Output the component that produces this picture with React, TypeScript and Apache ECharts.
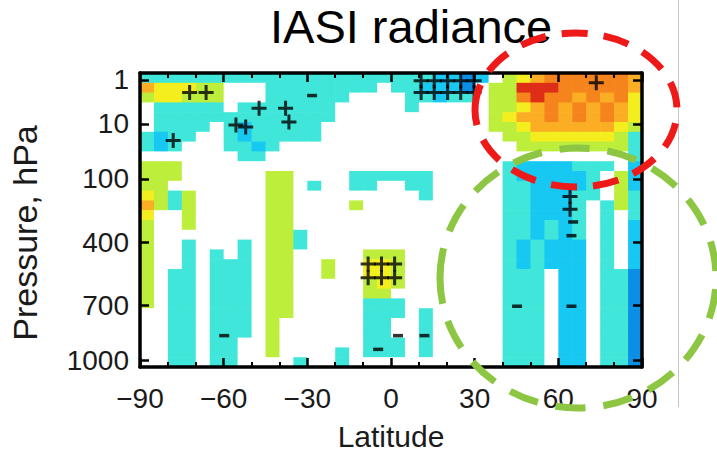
import React, { useEffect, useRef } from 'react';
import * as echarts from 'echarts';

const FONT = '"Liberation Sans", Arial, Helvetica, sans-serif';

// Latitude tick labels and grid cell centres (5 degree bins)
const latTicks = [-90, -60, -30, 0, 30, 60, 90];
const latCenters = [
  -87.5, -82.5, -77.5, -72.5, -67.5, -62.5, -57.5, -52.5, -47.5, -42.5, -37.5, -32.5,
  -27.5, -22.5, -17.5, -12.5, -7.5, -2.5, 2.5, 7.5, 12.5, 17.5, 22.5, 27.5,
  32.5, 37.5, 42.5, 47.5, 52.5, 57.5, 62.5, 67.5, 72.5, 77.5, 82.5, 87.5,
];

// Pressure tick labels and their position on the (model level) vertical axis
const pressureLabels = ['1', '10', '100', '400', '700', '1000'];
const pressureLevelPos = [0.7, 5.2, 10.8, 17.3, 23.7, 29.3];

// Contour class of each code
const codeValues: Record<string, number> = { B: -3, b: -2, c: -1, '.': 0, g: 1, y: 2, o: 3, O: 4, r: 5 };
const classColors = ['#0a8ee6', '#16c8f2', '#40e6da', '#ffffff', '#bdee3c', '#f4ee1e', '#fbae24', '#f5841c', '#de2e18'];
const classValues = [-3, -2, -1, 0, 1, 2, 3, 4, 5];

// Rows from top (1 hPa) to bottom (1000 hPa), columns from -90 to 90 latitude
const anomalyRows = [
  'cccccc cccccc cccccc cccbbB b.gyoO OOOOOo',
  'oyyygg ...ccc ccccc. ccbbbB .ggrrr OOOOOo',
  'gyyggg ...ccc ccc... .ccbcc .ggOrO OoOoOy',
  '.ccccc .ccccc cc.... .c.... .ggyoO oOoOoy',
  '.ccccc cccccc cc.... ...... .gyooO oOoOoy',
  '.cccc. cbcccc c..... ...... .ggyoo ooooyg',
  'cbcc.. cbcccc c..... ...... ..ggyy yyyygc',
  'cbc... ccbc.. ...... ...... ...ggg gggggc',
  '...... .cc... ...... ...... ...... .....c',
  'ggg... ...... ...... ...... .. cbbbbccc.b',
  'ggg... ...gg. ...ccc ccc... .. cbbbbbc.gb',
  'gg.... ...gg. c..cc. .cc... .. ccbbbbc.gb',
  'ygcg.. ...gg. ...... ..c... .. ccbbbcc.gc',
  'ogcg.. ...gg. ...g.. ...... .. ccbbbc.cgc',
  'y..g.. ...gg. ...... ...... .. ccbbbc.c.c',
  'g..g.. ...gg. ...... ...... .. ccbcbc.c.b',
  'g..... ...ggc ...... ...... .. ccbcbc.c.b',
  'g..c.. .c.ggc ...... ...... .. cbcbbb.c.b',
  'g..c.c .c.gg. ....gg g..... .. cbcbbb.c.b',
  'g..c.c cc.gg. .g..yy g..... .. cbcbbb.c.b',
  'g.cc.c cc.gg. .g..yy g..... .. ccc.bb.ccB',
  'g.cc.c cc.gg. ....gy g..... .. ccc.bb.ccB',
  'g.cc.c cc.gg. ....gg ...... .. ccc.bb.ccB',
  'g.cc.c cc.gg. ....cc c..... .. ccc.bb.ccB',
  '..cc.c cc.gg. ....cc c.c... .. ccc.bb.ccB',
  '..cc.c cc.g.. ....cc ..c... .. ccc.bb.ccB',
  '..cc.c cc.g.. ....cc ..c... .. ccc.bb.ccB',
  '..cc.c c..g.. ....cc c.c... .. ccc.bb.ccB',
  '..cc.c c..g.. ..c.cc c.c... .. ccc.bb.ccB',
  '..cc.c c....c ..c... ...... .. ccc.bb.ccB',
];

// Significance markers [latitude, level]
const sigPlus = [
  [-72.2, 2.0], [-66.3, 2.0],
  [-78.1, 6.9], [-55.6, 5.3], [-52.1, 5.5], [-47.3, 3.6], [-37.8, 3.6], [-36.6, 5.0],
  [10.8, 0.8], [15.5, 0.8], [20.3, 0.8], [25.0, 0.8], [29.8, 0.8],
  [10.8, 2.0], [15.5, 2.0], [20.3, 2.0], [25.0, 2.0], [29.8, 2.0],
  [73.6, 1.0],
  [-8.2, 19.5], [-3.4, 19.5], [1.3, 19.5], [-8.2, 20.9], [-3.4, 20.9], [1.3, 20.9],
  [64.2, 12.6], [64.2, 13.9],
];
const sigDash = [
  [-28.3, 2.3], [65.3, 15.2], [64.7, 16.6], [45.2, 23.8], [64.7, 23.8],
  [-59.8, 26.8], [2.5, 26.8], [12.0, 26.8], [-4.6, 28.2],
];

const PLUS = 'path://M6.4,0H9.6V16H6.4Z M0,6.4H16V9.6H0Z';

function buildCells() {
  const cells: number[][] = [];
  anomalyRows.forEach((rowStr, r) => {
    const row = rowStr.replace(/ /g, '');
    for (let c = 0; c < latCenters.length; c++) {
      const ch = row[c] ?? '.';
      cells.push([latCenters[c], r, codeValues[ch] ?? 0]);
    }
  });
  return cells;
}

export default function App() {
  const ref = useRef<HTMLDivElement>(null);
  useEffect(() => {
    document.body.style.margin = '0';
    if (!ref.current) return;
    const chart = echarts.init(ref.current, undefined, { renderer: 'svg' });
    const cells = buildCells();
    const latLabel = (v: number) => (v < 0 ? '\u2212' + Math.abs(v) : String(v));
    const presLabel = (v: number) => {
      let best = 0;
      pressureLevelPos.forEach((p, i) => {
        if (Math.abs(p - v) < Math.abs(pressureLevelPos[best] - v)) best = i;
      });
      return pressureLabels[best];
    };
    const axisLine = { show: true, onZero: false, lineStyle: { color: '#000', width: 3.5 } };
    const tick = { show: true, inside: true, length: 9, lineStyle: { color: '#000', width: 2.5 } };
    const minor = { show: true, splitNumber: 3, length: 5, lineStyle: { color: '#000', width: 2 } };
    chart.setOption({
      animation: false,
      backgroundColor: '#fff',
      title: {
        text: 'IASI radiance',
        left: 270,
        top: 3,
        padding: 0,
        textStyle: { fontSize: 47, fontWeight: 'normal', color: '#000', fontFamily: FONT },
      },
      grid: { left: 139, top: 73, width: 503, height: 300, show: false },
      visualMap: {
        type: 'piecewise',
        show: false,
        dimension: 2,
        seriesIndex: 0,
        pieces: classValues.map((v, i) => ({ value: v, color: classColors[i] })),
      },
      xAxis: [
        {
          type: 'value', min: -90, max: 90, interval: 30, position: 'bottom', z: 10,
          axisLine, axisTick: tick, minorTick: minor,
          splitLine: { show: false },
          axisLabel: { formatter: latLabel, fontSize: 28, color: '#1a1a1a', margin: 17, fontFamily: FONT },
          name: 'Latitude', nameLocation: 'middle', nameGap: 54,
          nameTextStyle: { fontSize: 30, color: '#1a1a1a', fontFamily: FONT },
        },
        {
          type: 'value', min: -90, max: 90, interval: 30, position: 'top', z: 10,
          axisLine, axisTick: tick, minorTick: minor,
          splitLine: { show: false }, axisLabel: { show: false },
        },
      ],
      yAxis: [
        {
          type: 'value', min: 0, max: 30, inverse: true, position: 'left', z: 10,
          axisLine,
          axisTick: { ...tick, customValues: pressureLevelPos },
          splitLine: { show: false },
          axisLabel: { customValues: pressureLevelPos, formatter: presLabel, fontSize: 28, color: '#1a1a1a', margin: 11, fontFamily: FONT },
          name: 'Pressure, hPa', nameLocation: 'middle', nameGap: 98,
          nameTextStyle: { fontSize: 34, color: '#1a1a1a', fontFamily: FONT, padding: [0, 26, 0, 0] },
        },
        {
          type: 'value', min: 0, max: 30, inverse: true, position: 'right', z: 10,
          axisLine,
          axisTick: { ...tick, customValues: pressureLevelPos },
          splitLine: { show: false }, axisLabel: { show: false },
        },
      ],
      series: [
        {
          type: 'custom',
          xAxisIndex: 0, yAxisIndex: 0,
          data: cells,
          encode: { x: 0, y: 1 },
          clip: true,
          renderItem: (params: any, api: any) => {
            const lat = api.value(0);
            const row = api.value(1);
            const p0 = api.coord([lat - 2.5, row]);
            const p1 = api.coord([lat + 2.5, row + 1]);
            return {
              type: 'rect',
              shape: {
                x: Math.min(p0[0], p1[0]), y: Math.min(p0[1], p1[1]),
                width: Math.abs(p1[0] - p0[0]) + 0.6, height: Math.abs(p1[1] - p0[1]) + 0.6,
              },
              style: { fill: api.visual('color') },
            };
          },
          z: 1,
        },
        {
          type: 'scatter', xAxisIndex: 0, yAxisIndex: 0,
          data: sigPlus, symbol: PLUS, symbolSize: 15,
          itemStyle: { color: '#000' }, z: 3,
        },
        {
          type: 'scatter', xAxisIndex: 0, yAxisIndex: 0,
          data: sigDash, symbol: 'rect', symbolSize: [10, 3.5],
          itemStyle: { color: '#000' }, z: 3,
        },
      ],
      graphic: [
        { type: 'line', shape: { x1: 678.5, y1: 0, x2: 678.5, y2: 407 }, style: { stroke: '#c4c4c4', lineWidth: 1 }, z: 50 },
        {
          type: 'ellipse', shape: { cx: 576, cy: 110, rx: 101, ry: 77 },
          style: { fill: 'rgba(0,0,0,0)', stroke: '#ee1a1a', lineWidth: 7, lineDash: [26, 16] }, z: 60,
        },
        {
          type: 'ellipse', shape: { cx: 578, cy: 278, rx: 138, ry: 130 },
          style: { fill: 'rgba(0,0,0,0)', stroke: '#8cc643', lineWidth: 7, lineDash: [30, 18] }, z: 61,
        },
      ],
    });
    return () => chart.dispose();
  }, []);
  return <div ref={ref} style={{ width: 717, height: 456 }} />;
}
